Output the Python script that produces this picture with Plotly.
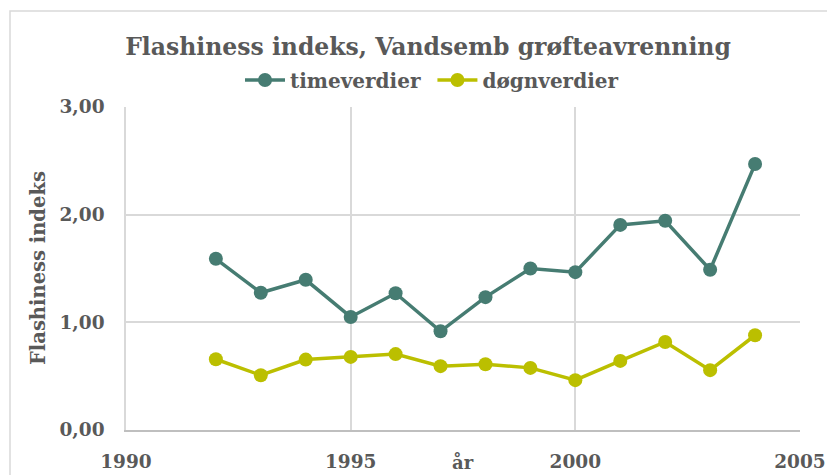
import plotly.graph_objects as go

years = [1992, 1993, 1994, 1995, 1996, 1997, 1998, 1999, 2000, 2001, 2002, 2003, 2004]
timeverdier = [1.59, 1.275, 1.395, 1.05, 1.27, 0.917, 1.234, 1.50, 1.466, 1.905, 1.944, 1.488, 2.47]
dognverdier = [0.657, 0.509, 0.654, 0.679, 0.705, 0.593, 0.611, 0.577, 0.463, 0.642, 0.818, 0.556, 0.88]

FONT = "DejaVu Serif"
GREY = "#595959"
TEAL = "#467C72"
YELLOW = "#BBBF00"

# page body has an 8px margin, so the figure is drawn 8px in and sized to fit the window
OFF = 8
W, H = 835 - OFF, 475 - OFF
L, T = 126 - OFF, 107 - OFF
pw, ph = 674, 323
R, B = W - L - pw, H - T - ph

def px(x):  # reference pixel x -> paper
    return (x - OFF - L) / pw

def py(y):  # reference pixel y -> paper
    return (T + ph - (y - OFF)) / ph

fig = go.Figure()
fig.add_trace(go.Scatter(x=years, y=timeverdier, name="timeverdier ", mode="lines+markers",
                         line=dict(color=TEAL, width=3.5), marker=dict(color=TEAL, size=14)))
fig.add_trace(go.Scatter(x=years, y=dognverdier, name="døgnverdier", mode="lines+markers",
                         line=dict(color=YELLOW, width=3.5), marker=dict(color=YELLOW, size=14)))

fig.update_layout(
    width=W, height=H,
    margin=dict(l=L, r=R, t=T, b=B, autoexpand=False),
    paper_bgcolor="white", plot_bgcolor="white",
    separators=", ",
    font=dict(family=FONT, color=GREY),
    title=dict(text="<b>Flashiness indeks, Vandsemb grøfteavrenning</b>",
               x=(428 - OFF) / W, xanchor="center", xref="container",
               y=1 - (47 - OFF) / H, yanchor="middle", yref="container",
               font=dict(family=FONT, size=23.5, color=GREY)),
    legend=dict(orientation="h", x=px(432), xanchor="center", y=py(80), yanchor="middle",
                font=dict(family=FONT, size=20, color=GREY, weight="bold"),
                itemwidth=40, tracegroupgap=0),
    xaxis=dict(range=[1990, 2005], dtick=5, tick0=1990, showgrid=True, gridcolor="#D9D9D9",
               gridwidth=1.5, showline=True, linecolor="#BFBFBF", linewidth=2,
               ticks="", ticklabelstandoff=14, zeroline=False, automargin=False,
               tickfont=dict(family=FONT, size=18.5, color=GREY, weight="bold")),
    yaxis=dict(range=[0, 3], dtick=1, tickformat=".2f", showgrid=True, gridcolor="#D9D9D9",
               gridwidth=1.5, showline=True, linecolor="#D9D9D9", linewidth=1.5,
               ticks="", ticklabelstandoff=16, zeroline=False, automargin=False,
               tickfont=dict(family=FONT, size=18.5, color=GREY, weight="bold")),
    showlegend=True,
)

fig.add_annotation(text="<b>år</b>", x=0.5, y=py(462), xref="paper", yref="paper",
                   showarrow=False, xanchor="center", yanchor="middle",
                   font=dict(family=FONT, size=18, color=GREY))
fig.add_annotation(text="<b>Flashiness indeks</b>", x=px(38), y=py(268), xref="paper", yref="paper",
                   showarrow=False, xanchor="center", yanchor="middle", textangle=-90,
                   font=dict(family=FONT, size=19.5, color=GREY))

fig.add_shape(type="rect", xref="paper", yref="paper",
              x0=px(10), x1=px(850), y0=py(490), y1=py(11),
              line=dict(color="#D9D9D9", width=1.5), fillcolor="rgba(0,0,0,0)", layer="below")

fig.write_html("out.html")
